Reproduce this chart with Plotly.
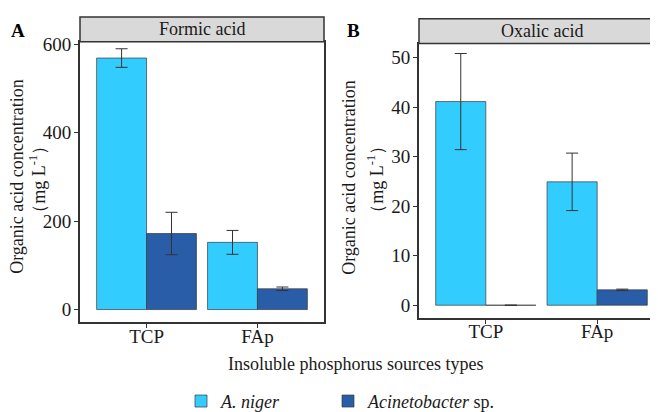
import plotly.graph_objects as go

# ---------------- data ----------------
sources = ["TCP", "FAp"]
strains = ["A. niger", "Acinetobacter sp."]
legend_names = ["<i>A. niger</i>", "<i>Acinetobacter</i> sp."]

formic_niger = [569, 152]
formic_niger_sd = [21, 27]
formic_acin = [172, 47]
formic_acin_sd = [48, 4]

oxalic_niger = [41.1, 24.9]
oxalic_niger_sd = [9.7, 5.8]
oxalic_acin = [0, 3.1]
oxalic_acin_sd = [0, 0.15]

colors = ["#33CCFF", "#2A5DA8"]
W, H = 658, 412
FONT = "Liberation Serif"


def px_x(p):
    return p / W


def px_y(p):
    return 1 - p / H


fig = go.Figure()

legend_ids = ["legend", "legend2"]
panels = [
    ("x", "y", [formic_niger, formic_acin], [formic_niger_sd, formic_acin_sd], True),
    ("x2", "y2", [oxalic_niger, oxalic_acin], [oxalic_niger_sd, oxalic_acin_sd], False),
]
for xa, ya, vals, sds, show in panels:
    for i in range(2):
        fig.add_trace(go.Bar(
            x=sources, y=vals[i], name=legend_names[i],
            xaxis=xa, yaxis=ya, offsetgroup=str(i), legendgroup=str(i),
            showlegend=show, legend=legend_ids[i],
            marker=dict(color=colors[i], line=dict(color="#3a3a3a", width=0.7)),
            error_y=dict(type="data", array=sds[i], visible=True,
                         color="#333333", thickness=1, width=6),
        ))

axis_common = dict(showline=True, mirror=True, linecolor="#333333", linewidth=2,
                   ticks="outside", ticklen=4, tickcolor="#333333",
                   showgrid=False, zeroline=False,
                   tickfont=dict(family=FONT, size=19, color="#1a1a1a"))

legend_common = dict(orientation="h", xanchor="left", yanchor="middle",
                     font=dict(family=FONT, size=18, color="#1a1a1a"),
                     bgcolor="rgba(0,0,0,0)")

fig.update_layout(
    width=W, height=H,
    margin=dict(l=0, r=0, t=0, b=0),
    paper_bgcolor="white", plot_bgcolor="white",
    barmode="group", bargap=0.1, bargroupgap=0,
    font=dict(family=FONT, size=17, color="#1a1a1a"),
    xaxis=dict(domain=[px_x(72), px_x(316)], range=[-0.6, 1.6], anchor="y",
               ticklabelstandoff=-8, **axis_common),
    yaxis=dict(domain=[px_y(322), px_y(27)], range=[-29, 606], anchor="x",
               tickvals=[0, 200, 400, 600], ticklabelstandoff=-1, **axis_common),
    xaxis2=dict(domain=[px_x(411), px_x(656)], range=[-0.6, 1.6], anchor="y2",
                ticklabelstandoff=-8, **axis_common),
    yaxis2=dict(domain=[px_y(317), px_y(29)], range=[-2.5, 52.8], anchor="x2",
                tickvals=[0, 10, 20, 30, 40, 50], ticklabelstandoff=-1, **axis_common),
    legend=dict(x=px_x(173), y=px_y(405), **legend_common),
    legend2=dict(x=px_x(320), y=px_y(405), **legend_common),
)

# facet strips
for (x0, x1, y0, y1, label) in [(72, 316, 1, 27, "Formic acid"), (411, 656, 3, 29, "Oxalic acid")]:
    fig.add_shape(type="rect", xref="paper", yref="paper",
                  x0=px_x(x0), x1=px_x(x1), y0=px_y(y1), y1=px_y(y0),
                  fillcolor="#D9D9D9", line=dict(color="#333333", width=1.5))
    fig.add_annotation(xref="paper", yref="paper", x=px_x((x0 + x1) / 2), y=px_y((y0 + y1) / 2),
                       text=label, showarrow=False, xanchor="center", yanchor="middle",
                       font=dict(family=FONT, size=18, color="#1a1a1a"))

# panel letters
for (x, y, t) in [(10, 15, "A"), (345, 15, "B")]:
    fig.add_annotation(xref="paper", yref="paper", x=px_x(x), y=px_y(y), text="<b>%s</b>" % t,
                       showarrow=False, xanchor="center", yanchor="middle",
                       font=dict(family=FONT, size=19, color="#000000"))

# y titles
for (x1, x2) in [(9, 30), (341, 368)]:
    fig.add_annotation(xref="paper", yref="paper", x=px_x(x1), y=px_y(169),
                       text="Organic acid concentration", textangle=-90, showarrow=False,
                       xanchor="center", yanchor="middle",
                       font=dict(family=FONT, size=18, color="#1a1a1a"))
    fig.add_annotation(xref="paper", yref="paper", x=px_x(x2), y=px_y(172),
                       text="（mg L<sup>-1</sup>）", textangle=-90, showarrow=False,
                       xanchor="center", yanchor="middle",
                       font=dict(family=FONT, size=18, color="#1a1a1a"))

# x title
fig.add_annotation(xref="paper", yref="paper", x=px_x(347), y=px_y(366),
                   text="Insoluble phosphorus sources types", showarrow=False,
                   xanchor="center", yanchor="middle",
                   font=dict(family=FONT, size=18, color="#1a1a1a"))

fig.write_html("out.html")
